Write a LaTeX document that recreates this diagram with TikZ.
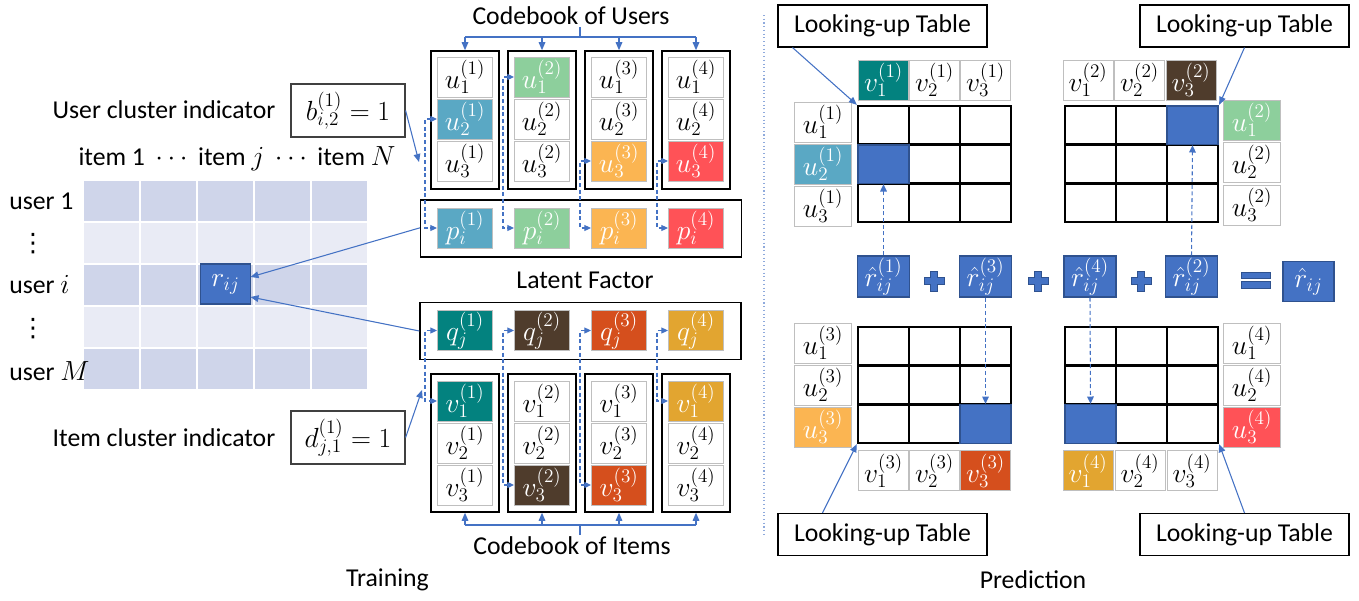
\documentclass[tikz,border=0pt]{standalone}
\usepackage{fontspec}
\setmainfont{Carlito}
\newfontfamily\djv{DejaVu Sans}
\usetikzlibrary{arrows.meta,calc}
\definecolor{tblD}{HTML}{CFD5EA}
\definecolor{tblL}{HTML}{E9EBF5}
\definecolor{pblue}{HTML}{4472C4}
\definecolor{pbdr}{HTML}{2F528F}
\definecolor{cUa}{HTML}{5AA8C4}
\definecolor{cUb}{HTML}{8DCF9C}
\definecolor{cUc}{HTML}{FBB552}
\definecolor{cUd}{HTML}{FF5257}
\definecolor{cVa}{HTML}{03827F}
\definecolor{cVb}{HTML}{4F3C2C}
\definecolor{cVc}{HTML}{D54F1D}
\definecolor{cVd}{HTML}{E2A530}
\definecolor{cgray}{HTML}{BFBFBF}
\definecolor{sepc}{HTML}{8FAADC}
\newcommand\gridlinesat[2]{%
  \foreach \i in {1,2}{%
    \draw[gridl] ({#1+51*\i},#2) -- ({#1+51*\i},{#2+116});
    \draw[gridl] (#1,{#2+38.667*\i}) -- ({#1+153},{#2+38.667*\i});
  }}
\begin{document}
\begin{tikzpicture}[x=0.75pt,y=-0.75pt,
  font=\fontsize{19.3}{22}\selectfont,
  mfont/.style={font=\fontsize{22.5}{26}\selectfont},
  mcell/.style={minimum width=41.25pt, minimum height=30pt, inner sep=0pt, outer sep=0pt},
  cell/.style={mfont, draw=cgray, line width=0.75pt, fill=white, minimum width=41.25pt, minimum height=30pt, inner sep=0pt},
  ccol/.style={cell, fill=#1, text=white},
  hcell/.style={mfont, draw=cgray, line width=0.75pt, fill=white, minimum width=37.5pt, minimum height=30pt, inner sep=0pt},
  hcol/.style={hcell, fill=#1, text=white},
  rcell/.style={mfont, draw=cgray, line width=0.75pt, fill=white, minimum width=43pt, minimum height=30pt, inner sep=0pt},
  rcol/.style={rcell, fill=#1, text=white},
  cbox/.style={draw=black, line width=1.2pt, minimum width=51pt, minimum height=103.5pt, inner sep=0pt},
  rowbox/.style={draw=black, line width=1.2pt, minimum width=240.5pt, minimum height=42.5pt, inner sep=0pt},
  indbox/.style={mfont, draw=black!75, line width=0.9pt, minimum width=85.5pt, minimum height=39.75pt, inner sep=0pt},
  ltbox/.style={draw=black, line width=0.8pt, minimum width=156.75pt, minimum height=31.5pt, inner sep=0pt},
  mat/.style={draw=black, line width=1.8pt, minimum width=114.75pt, minimum height=87pt, inner sep=0pt},
  gridl/.style={draw=black, line width=1.8pt},
  hit/.style={fill=pblue, draw=pbdr, line width=0.8pt, minimum width=38.25pt, minimum height=29pt, inner sep=0pt},
  rhat/.style={mfont, fill=pblue, draw=pbdr, line width=0.8pt, minimum width=39pt, minimum height=30.75pt, inner sep=0pt, text=white},
  arr/.style={draw=pblue, line width=0.8pt, -{Triangle[length=6pt,width=5pt]}},
  bl/.style={draw=pblue, line width=0.8pt},
  darr/.style={draw=pblue, line width=0.8pt, dash pattern=on 3pt off 2pt, -{Triangle[length=5.5pt,width=5pt]}},
  darrb/.style={draw=pblue, line width=0.8pt, dash pattern=on 3pt off 2pt, {Triangle[length=5pt,width=4.5pt]}-{Triangle[length=5pt,width=4.5pt]}},
  vd/.style={font=\djv\fontsize{19}{22}\selectfont, inner sep=0pt},
  plussign/.pic={\filldraw[fill=pblue, draw=pbdr, line width=0.6pt]
    (-3.5,-10) -- (3.5,-10) -- (3.5,-3.5) -- (10,-3.5) -- (10,3.5) -- (3.5,3.5) -- (3.5,10)
    -- (-3.5,10) -- (-3.5,3.5) -- (-10,3.5) -- (-10,-3.5) -- (-3.5,-3.5) -- cycle;},
  eqsign/.pic={\filldraw[fill=pblue, draw=pbdr, line width=0.6pt] (-14.5,-8) rectangle (14.5,-1.8);
    \filldraw[fill=pblue, draw=pbdr, line width=0.6pt] (-14.5,1.8) rectangle (14.5,8);}
]
\useasboundingbox (0,0) rectangle (1359,600);

% ---------------- Training: rating matrix ----------------
\foreach \r/\y/\c in {1/201/tblD,2/243/tblL,3/285/tblD,4/327/tblL,5/369/tblD}{
  \foreach \k in {1,...,5}{
    \node[mcell, fill=\c] (m\r\k) at ({111.5+57*(\k-1)},\y) {};
  }}
\node[mcell, mfont, minimum width=37.5pt, fill=pblue, draw=pbdr, line width=0.8pt, text=white] (rij) at (225.5,284) {$r_{ij}$};

\node[anchor=west, inner sep=0pt] (lu1) at (9,201) {user 1};
\node[vd] (ld1) at (33,244) {⋮};
\node[anchor=west, inner sep=0pt] (lui) at (9,285) {user $i$};
\node[vd] (ld2) at (33,329) {⋮};
\node[anchor=west, inner sep=0pt] (luM) at (9,371) {user $M$};
\node[inner sep=0pt] (hdr) at (237,159) {item 1 $\,\cdots\,$ item $j$ $\,\cdots\,$ item $N$};

\node[inner sep=0pt] (uci) at (164,110) {User cluster indicator};
\node[indbox] (bbox) at (348,110.5) {$b_{i,2}^{(1)}=1$};
\node[inner sep=0pt] (ici) at (164,438) {Item cluster indicator};
\node[indbox] (dbox) at (348,437.5) {$d_{j,1}^{(1)}=1$};
\coordinate (bt) at (419,162);
\coordinate (dt) at (422,390);

% ---------------- Codebook of users ----------------
\node[inner sep=0pt] (CU) at (571,16) {Codebook of Users};
\foreach \k/\X in {1/465,2/542,3/619,4/696}{
  \node[cbox] (UB\k) at (\X,120) {};
}
\node[cell] (u11) at (465,77) {$u_1^{(1)}$};
\node[ccol=cUa] (u12) at (465,119) {$u_2^{(1)}$};
\node[cell] (u13) at (465,161) {$u_3^{(1)}$};
\node[ccol=cUb] (u21) at (542,77) {$u_1^{(2)}$};
\node[cell] (u22) at (542,119) {$u_2^{(2)}$};
\node[cell] (u23) at (542,161) {$u_3^{(2)}$};
\node[cell] (u31) at (619,77) {$u_1^{(3)}$};
\node[cell] (u32) at (619,119) {$u_2^{(3)}$};
\node[ccol=cUc] (u33) at (619,161) {$u_3^{(3)}$};
\node[cell] (u41) at (696,77) {$u_1^{(4)}$};
\node[cell] (u42) at (696,119) {$u_2^{(4)}$};
\node[ccol=cUd] (u43) at (696,161) {$u_3^{(4)}$};

\node[rowbox] (PB) at (581,228.5) {};
\node[ccol=cUa] (p1) at (465,228) {$p_i^{(1)}$};
\node[ccol=cUb] (p2) at (542,228) {$p_i^{(2)}$};
\node[ccol=cUc] (p3) at (619,228) {$p_i^{(3)}$};
\node[ccol=cUd] (p4) at (696,228) {$p_i^{(4)}$};

\coordinate (cuA) at (580,27);
\coordinate (cuB) at (580,37);
\draw[bl] (cuA) -- (cuB);
\draw[bl] (UB1.north |- cuB) -- (UB4.north |- cuB);
\foreach \k in {1,...,4}{\draw[arr] (UB\k.north |- cuB) -- (UB\k.north);}

% ---------------- Latent factor / codebook of items ----------------
\node[inner sep=0pt] (LF) at (585,280) {Latent Factor};
\node[rowbox] (QB) at (580.5,331) {};
\node[ccol=cVa] (q1) at (465,330.5) {$q_j^{(1)}$};
\node[ccol=cVb] (q2) at (542,330.5) {$q_j^{(2)}$};
\node[ccol=cVc] (q3) at (619,330.5) {$q_j^{(3)}$};
\node[ccol=cVd] (q4) at (696,330.5) {$q_j^{(4)}$};

\foreach \k/\X in {1/465,2/542,3/619,4/696}{
  \node[cbox] (IB\k) at (\X,443) {};
}
\node[ccol=cVa] (v11) at (465,401) {$v_1^{(1)}$};
\node[cell] (v12) at (465,443) {$v_2^{(1)}$};
\node[cell] (v13) at (465,485) {$v_3^{(1)}$};
\node[cell] (v21) at (542,401) {$v_1^{(2)}$};
\node[cell] (v22) at (542,443) {$v_2^{(2)}$};
\node[ccol=cVb] (v23) at (542,485) {$v_3^{(2)}$};
\node[cell] (v31) at (619,401) {$v_1^{(3)}$};
\node[cell] (v32) at (619,443) {$v_2^{(3)}$};
\node[ccol=cVc] (v33) at (619,485) {$v_3^{(3)}$};
\node[ccol=cVd] (v41) at (696,401) {$v_1^{(4)}$};
\node[cell] (v42) at (696,443) {$v_2^{(4)}$};
\node[cell] (v43) at (696,485) {$v_3^{(4)}$};

\node[inner sep=0pt] (CI) at (572,546) {Codebook of Items};
\coordinate (ciA) at (580,535);
\coordinate (ciB) at (580,525);
\draw[bl] (ciA) -- (ciB);
\draw[bl] (IB1.south |- ciB) -- (IB4.south |- ciB);
\foreach \k in {1,...,4}{\draw[arr] (IB\k.south |- ciB) -- (IB\k.south);}

% dashed selection connectors
\draw[darrb] (u12.west) -- ++(-12,0) |- (p1.west);
\draw[darrb] (u21.west) -- ++(-11,0) |- (p2.west);
\draw[darrb] (u33.west) -- ++(-11,0) |- (p3.west);
\draw[darrb] (u43.west) -- ++(-11,0) |- (p4.west);
\draw[darrb] (q1.west) -- ++(-12,0) |- (v11.west);
\draw[darrb] (q2.west) -- ++(-11,0) |- (v23.west);
\draw[darrb] (q3.west) -- ++(-11,0) |- (v33.west);
\draw[darrb] (q4.west) -- ++(-11,0) |- (v41.west);

% solid arrows
\draw[arr] (bbox.east) -- (bt);
\draw[arr] (dbox.east) -- (dt);
\draw[arr] ([yshift=0.5pt]PB.west) -- ([yshift=5.25pt]rij.east);
\draw[arr] (QB.west) -- ([yshift=-9.75pt]rij.east);

\node[inner sep=0pt] (TR) at (387.5,580) {Training};

% separator
\draw[sepc, dotted, line width=0.8pt] (764,15) -- (764,535);

% ---------------- Prediction ----------------
% matrix 1 (top-left)
\node[mat] (M1) at (934.5,164) {};
\gridlinesat{858}{106}
\node[hit] (H1) at (883.5,164.3) {};
\node[hcol=cVa] (a11) at (883.5,80) {$v_1^{(1)}$};
\node[hcell] (a12) at (934.5,80) {$v_2^{(1)}$};
\node[hcell] (a13) at (985.5,80) {$v_3^{(1)}$};
\node[rcell] (b11) at (823,122) {$u_1^{(1)}$};
\node[rcol=cUa] (b12) at (823,164) {$u_2^{(1)}$};
\node[rcell] (b13) at (823,206) {$u_3^{(1)}$};
\node[ltbox] (LT1) at (882.5,26) {Looking-up Table};

% matrix 2 (top-right)
\node[mat] (M2) at (1141.5,164) {};
\gridlinesat{1065}{106}
\node[hit] (H2) at (1192.5,125.3) {};
\node[hcell] (a21) at (1088,80) {$v_1^{(2)}$};
\node[hcell] (a22) at (1139.5,80) {$v_2^{(2)}$};
\node[hcol=cVb] (a23) at (1191,80) {$v_3^{(2)}$};
\node[rcol=cUb] (b21) at (1252,120) {$u_1^{(2)}$};
\node[rcell] (b22) at (1252,162) {$u_2^{(2)}$};
\node[rcell] (b23) at (1252,205) {$u_3^{(2)}$};
\node[ltbox] (LT2) at (1244.5,26) {Looking-up Table};

% matrix 3 (bottom-left)
\node[mat] (M3) at (934.5,385) {};
\gridlinesat{858}{327}
\node[hit] (H3) at (985.5,423.7) {};
\node[rcell] (b31) at (823,343) {$u_1^{(3)}$};
\node[rcell] (b32) at (823,385) {$u_2^{(3)}$};
\node[rcol=cUc] (b33) at (823,427) {$u_3^{(3)}$};
\node[hcell] (a31) at (883.5,470.5) {$v_1^{(3)}$};
\node[hcell] (a32) at (934.5,470.5) {$v_2^{(3)}$};
\node[hcol=cVc] (a33) at (985.5,470.5) {$v_3^{(3)}$};
\node[ltbox] (LT3) at (882.5,534.5) {Looking-up Table};

% matrix 4 (bottom-right)
\node[mat] (M4) at (1141.5,385) {};
\gridlinesat{1065}{327}
\node[hit] (H4) at (1090.5,423.7) {};
\node[rcell] (b41) at (1252,343) {$u_1^{(4)}$};
\node[rcell] (b42) at (1252,385) {$u_2^{(4)}$};
\node[rcol=cUd] (b43) at (1252,427) {$u_3^{(4)}$};
\node[hcol=cVd] (a41) at (1088,470.5) {$v_1^{(4)}$};
\node[hcell] (a42) at (1140,470.5) {$v_2^{(4)}$};
\node[hcell] (a43) at (1192,470.5) {$v_3^{(4)}$};
\node[ltbox] (LT4) at (1244.5,534.5) {Looking-up Table};

% lookup arrows
\draw[arr] ([xshift=11.25pt]LT1.south west) -- (M1.north west);
\draw[arr] (LT2.south) -- (M2.north east);
\draw[arr] ([xshift=33.75pt]LT3.north west) -- (M3.south west);
\draw[arr] (LT4.north) -- (M4.south east);

% sum row
\node[rhat] (R1) at (883.5,276.5) {$\hat r_{ij}^{(1)}$};
\node[rhat] (R3) at (985.5,276.5) {$\hat r_{ij}^{(3)}$};
\node[rhat] (R4) at (1090,276.5) {$\hat r_{ij}^{(4)}$};
\node[rhat] (R2) at (1191.5,276.5) {$\hat r_{ij}^{(2)}$};
\node[rhat, minimum width=38.25pt, minimum height=30pt] (RR) at (1308.5,281.5) {$\hat r_{ij}$};
\pic at (934,281) {plussign};
\pic at (1038,281) {plussign};
\pic at (1141,281) {plussign};
\pic at (1255.5,280) {eqsign};

\draw[darr] (R1.north) -- (H1.south);
\draw[darr] (R2.north) -- (H2.south);
\draw[darr] (R3.south) -- (H3.north);
\draw[darr] (R4.south) -- (H4.north);

\node[inner sep=0pt] (PR) at (1033,580) {Prediction};
\end{tikzpicture}
\end{document}
